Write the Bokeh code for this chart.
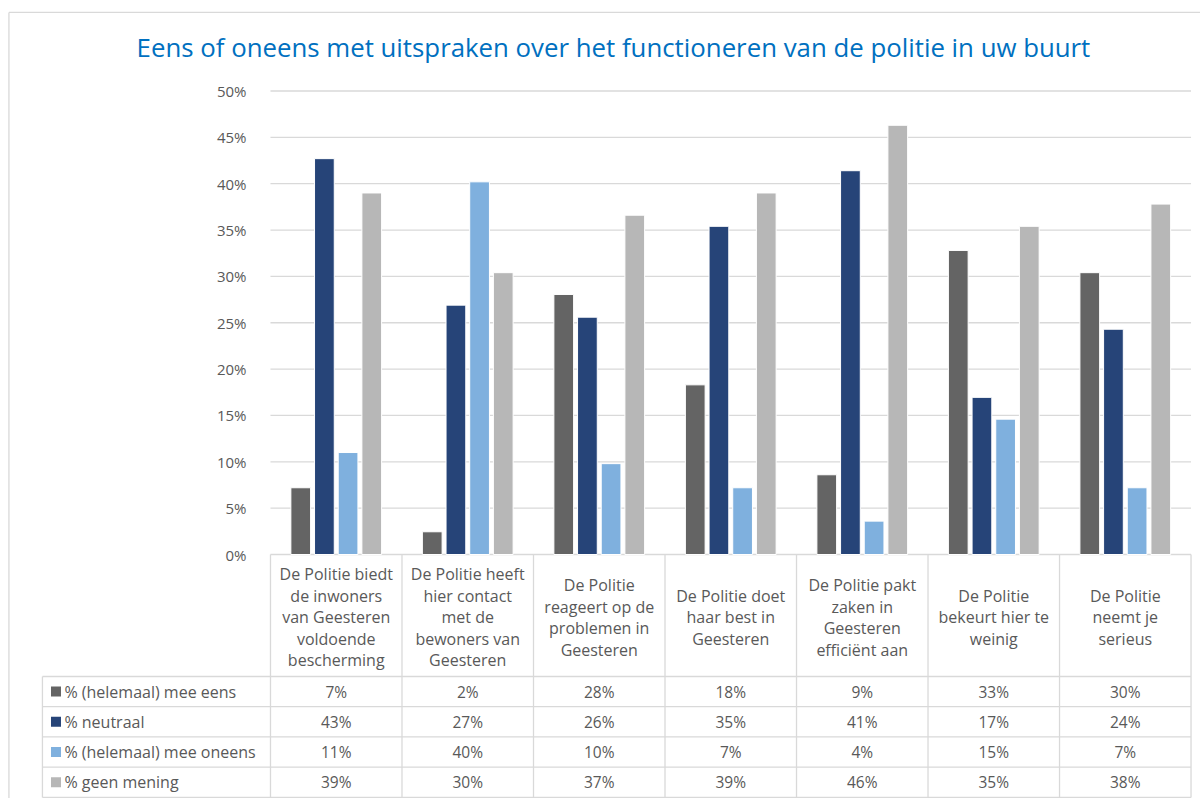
from bokeh.plotting import figure
from bokeh.models import Range1d, LinearAxis, FixedTicker, PrintfTickFormatter, ColumnDataSource
from bokeh.core.properties import value
from bokeh.embed import file_html
from bokeh.resources import INLINE

title_text = "Eens of oneens met uitspraken over het functioneren van de politie in uw buurt"

categories = [
    "De Politie biedt\nde inwoners\nvan Geesteren\nvoldoende\nbescherming",
    "De Politie heeft\nhier contact\nmet de\nbewoners van\nGeesteren",
    "De Politie\nreageert op de\nproblemen in\nGeesteren",
    "De Politie doet\nhaar best in\nGeesteren",
    "De Politie pakt\nzaken in\nGeesteren\nefficiënt aan",
    "De Politie\nbekeurt hier te\nweinig",
    "De Politie\nneemt je\nserieus",
]

series_names = ["% (helemaal) mee eens", "% neutraal", "% (helemaal) mee oneens", "% geen mening"]
mee_eens = [7.2, 2.45, 28.05, 18.3, 8.6, 32.8, 30.4]
neutraal = [42.7, 26.9, 25.6, 35.4, 41.4, 16.95, 24.3]
mee_oneens = [11.0, 40.2, 9.8, 7.2, 3.6, 14.6, 7.2]
geen_mening = [39.0, 30.4, 36.6, 39.0, 46.3, 35.4, 37.8]
series_values = [mee_eens, neutraal, mee_oneens, geen_mening]
series_colors = ["#646464", "#264478", "#7FB0DE", "#B7B7B7"]

y_ticks = [0, 5, 10, 15, 20, 25, 30, 35, 40, 45, 50]

FONT = "Open Sans"
TXT = "#595959"
LINE = "#D9D9D9"

n = len(categories)
p = figure(width=1200, height=798,
           x_range=Range1d(-2.053, 7.072), y_range=Range1d(-26.32, 59.76),
           output_backend="svg", toolbar_location=None, min_border=0,
           x_axis_type=None, y_axis_type=None)
p.outline_line_color = None
p.background_fill_color = "white"

# y axis placed at the left edge of the bar area
yax = LinearAxis(ticker=FixedTicker(ticks=y_ticks),
                 formatter=PrintfTickFormatter(format="%d%%"),
                 fixed_location=0,
                 axis_line_color=None, major_tick_line_color=None, minor_tick_line_color=None,
                 major_label_text_font=FONT, major_label_text_font_size="15px",
                 major_label_text_color=TXT, major_label_standoff=18)
p.add_layout(yax, "left")

# horizontal gridlines
p.segment(x0=[0] * len(y_ticks), x1=[n] * len(y_ticks), y0=y_ticks, y1=y_ticks,
          line_color=LINE, line_width=1.3)

# bars
offsets = [-0.27, -0.09, 0.09, 0.27]
for vals, col, off in zip(series_values, series_colors, offsets):
    src = ColumnDataSource(dict(x=[i + 0.5 + off for i in range(n)], top=vals))
    p.vbar(x="x", top="top", bottom=0, width=0.15, source=src,
           fill_color=col, line_color="white", line_width=1)

# ---- data table ----
hdr_bottom = -13.16
tab_bottom = -26.2
row_h = (tab_bottom - hdr_bottom) / len(series_names)
leg_left = -1.734
row_lines = [hdr_bottom + k * row_h for k in range(len(series_names) + 1)]

p.segment(x0=[leg_left] * len(row_lines), x1=[n] * len(row_lines), y0=row_lines, y1=row_lines,
          line_color=LINE, line_width=1.3)
p.segment(x0=list(range(n + 1)), x1=list(range(n + 1)), y0=[0] * (n + 1), y1=[tab_bottom] * (n + 1),
          line_color=LINE, line_width=1.3)
p.segment(x0=[leg_left], x1=[leg_left], y0=[hdr_bottom], y1=[tab_bottom],
          line_color=LINE, line_width=1.3)

# category headers
p.text(x=[i + 0.5 for i in range(n)], y=[hdr_bottom / 2 - 0.2] * n, text=categories,
       text_font=value(FONT), text_font_size="16px", text_color=TXT,
       text_align="center", text_baseline="middle", text_line_height=0.98)

# legend column + values
for k, (name, vals, col) in enumerate(zip(series_names, series_values, series_colors)):
    yc = hdr_bottom + (k + 0.5) * row_h
    p.scatter(x=[-1.631], y=[yc], marker="square", size=10, fill_color=col, line_color=None)
    p.text(x=[-1.567], y=[yc], text=[name], text_font=value(FONT), text_font_size="16px",
           text_color=TXT, text_align="left", text_baseline="middle")
    p.text(x=[i + 0.5 for i in range(n)], y=[yc] * n,
           text=["{:.0f}%".format(v) for v in vals],
           text_font=value(FONT), text_font_size="15.5px", text_color=TXT,
           text_align="center", text_baseline="middle")

# title
p.text(x=[2.608], y=[54.7], text=[title_text], text_font=value(FONT), text_font_size="25.8px",
       text_color="#0070C0", text_align="center", text_baseline="middle")

# outer chart border (top and left visible)
p.segment(x0=[-1.989, -1.989], x1=[7.2, -1.989], y0=[58.47, 58.47], y1=[58.47, -30],
          line_color=LINE, line_width=1.3)

open("out.html", "w").write(file_html(p, INLINE))
